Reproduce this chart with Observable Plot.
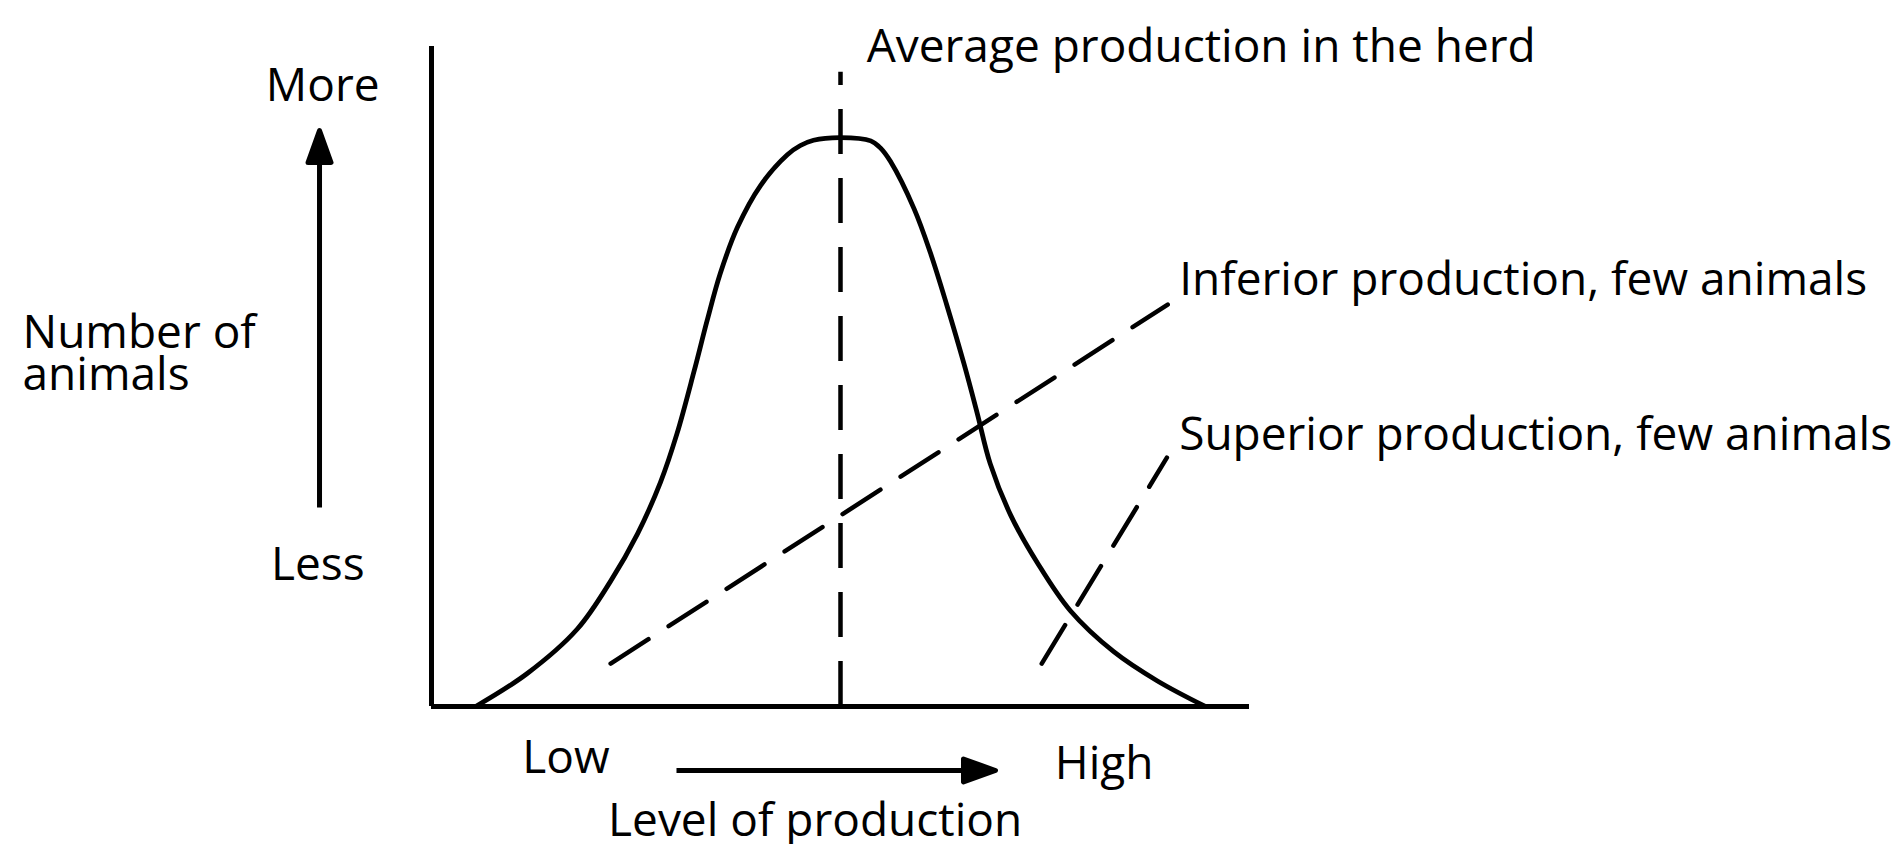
<!DOCTYPE html>
<html>
<head>
<meta charset="utf-8">
<script src="https://cdn.jsdelivr.net/npm/d3@7"></script>
<script src="https://cdn.jsdelivr.net/npm/@observablehq/plot@0.6"></script>
<style>
  html, body { margin: 0; padding: 0; background: #fff; }
  svg { display: block; }
</style>
</head>
<body>
<div id="chart"></div>
<script>
// ---- Data ----
// Distribution curve: level of production (0–100) vs number of animals (0–100)
const curveX = [5.4, 11.7, 17.8, 21.9, 25.2, 28.0, 30.0, 32.1, 33.7, 35.3, 37.4, 40.2, 43.5, 45.1, 46.7, 50.0, 53.7, 54.9, 56.1, 59.0, 61.0, 63.0, 65.1, 66.7, 68.3, 70.8, 74.1, 78.1, 83.4, 88.7, 94.6];
const curveY = [0, 5.0, 11.7, 19.0, 26.2, 34.0, 41.3, 50.8, 58.5, 65.6, 72.6, 78.9, 83.6, 85.0, 85.8, 86.2, 85.7, 84.6, 82.6, 75.4, 68.7, 60.8, 51.9, 44.5, 36.8, 29.0, 21.7, 14.5, 8.3, 3.9, 0];

// Average production marker
const averageX = [50];
const averageTop = [96.1];

// Leader lines to the annotations
const inferiorX = [21.9, 90.0];
const inferiorY = [6.5, 60.9];
const superiorX = [74.6, 89.9];
const superiorY = [6.5, 37.7];

// Texts
const annotationLabels = ["Average production in the herd", "Inferior production, few animals", "Superior production, few animals"];
const yEndLabels = ["Less", "More"];
const xEndLabels = ["Low", "High"];
const yTitle = "Number of\nanimals";
const xTitle = "Level of production";

// ---- Tables built from the arrays ----
const curve = curveX.map((x, i) => ({x, y: curveY[i]}));
const inferior = inferiorX.map((x, i) => ({x, y: inferiorY[i]}));
const superior = superiorX.map((x, i) => ({x, y: superiorY[i]}));
const average = averageX.map((x, i) => ({x, y1: 0, y2: averageTop[i]}));

// Filled-head arrow shape for Plot.vector
const arrowShape = {
  draw(context, l) {
    const headLen = 32, half = 11.5;
    context.moveTo(0, 0);
    context.lineTo(0, -l + headLen);
    context.moveTo(-half, -l + headLen);
    context.lineTo(0, -l);
    context.lineTo(half, -l + headLen);
    context.closePath();
  }
};

const FONT = "Open Sans";
const FS = 46;
const dash = "45,24";

const chart = Plot.plot({
  width: 1902,
  height: 844,
  marginLeft: 431,
  marginRight: 653,
  marginTop: 46,
  marginBottom: 138,
  x: {domain: [0, 100], axis: null},
  y: {domain: [0, 100], axis: null},
  style: {background: "#fff", fontFamily: FONT, overflow: "visible"},
  marks: [
    // axes frame
    Plot.ruleX([0], {y1: 0, y2: 100, stroke: "black", strokeWidth: 5}),
    Plot.ruleY([0], {x1: 0, x2: 100, stroke: "black", strokeWidth: 5}),
    // average production dashed line
    Plot.ruleX(average, {x: "x", y1: "y1", y2: "y2", stroke: "black", strokeWidth: 4.5, strokeDasharray: dash}),
    // leader lines
    Plot.line(inferior, {x: "x", y: "y", stroke: "black", strokeWidth: 4.5, strokeDasharray: dash}),
    Plot.line(superior, {x: "x", y: "y", stroke: "black", strokeWidth: 4.5, strokeDasharray: dash}),
    // distribution curve
    Plot.line(curve, {x: "x", y: "y", curve: "catmull-rom", stroke: "black", strokeWidth: 4.8}),
    // arrows
    Plot.vector([yEndLabels], {x: -13.69, y: 30.15, length: 377, rotate: 0, anchor: "start", shape: arrowShape, stroke: "black", fill: "black", strokeWidth: 5, strokeLinejoin: "round", strokeLinecap: "butt"}),
    Plot.vector([xEndLabels], {x: 29.95, y: -9.7, length: 319, rotate: 90, anchor: "start", shape: arrowShape, stroke: "black", fill: "black", strokeWidth: 5, strokeLinejoin: "round", strokeLinecap: "butt"}),
    // annotation texts
    Plot.text([annotationLabels[0]], {x: 53.2, y: 97.6, text: d => d, textAnchor: "start", lineAnchor: "bottom", fontSize: FS, fontFamily: FONT, fill: "black"}),
    Plot.text([annotationLabels[1]], {x: 91.4, y: 62.3, text: d => d, textAnchor: "start", lineAnchor: "bottom", fontSize: FS, fontFamily: FONT, fill: "black"}),
    Plot.text([annotationLabels[2]], {x: 91.4, y: 38.8, text: d => d, textAnchor: "start", lineAnchor: "bottom", fontSize: FS, fontFamily: FONT, fill: "black"}),
    // y end labels
    Plot.text([yEndLabels[1]], {x: -13.3, y: 91.8, text: d => d, textAnchor: "middle", lineAnchor: "bottom", fontSize: FS, fontFamily: FONT, fill: "black"}),
    Plot.text([yEndLabels[0]], {x: -13.9, y: 19.1, text: d => d, textAnchor: "middle", lineAnchor: "bottom", fontSize: FS, fontFamily: FONT, fill: "black"}),
    // y title
    Plot.text([yTitle], {x: -50.0, y: 47.9, text: d => d, textAnchor: "start", lineAnchor: "bottom", lineHeight: 0.93, fontSize: FS, fontFamily: FONT, fill: "black"}),
    // x end labels
    Plot.text([xEndLabels[0]], {x: 11.1, y: -10.15, text: d => d, textAnchor: "start", lineAnchor: "bottom", fontSize: FS, fontFamily: FONT, fill: "black"}),
    Plot.text([xEndLabels[1]], {x: 76.2, y: -11.0, text: d => d, textAnchor: "start", lineAnchor: "bottom", fontSize: FS, fontFamily: FONT, fill: "black"}),
    // x title
    Plot.text([xTitle], {x: 46.9, y: -19.6, text: d => d, textAnchor: "middle", lineAnchor: "bottom", fontSize: FS, fontFamily: FONT, fill: "black"})
  ]
});

document.getElementById("chart").appendChild(chart);
</script>
</body>
</html>
